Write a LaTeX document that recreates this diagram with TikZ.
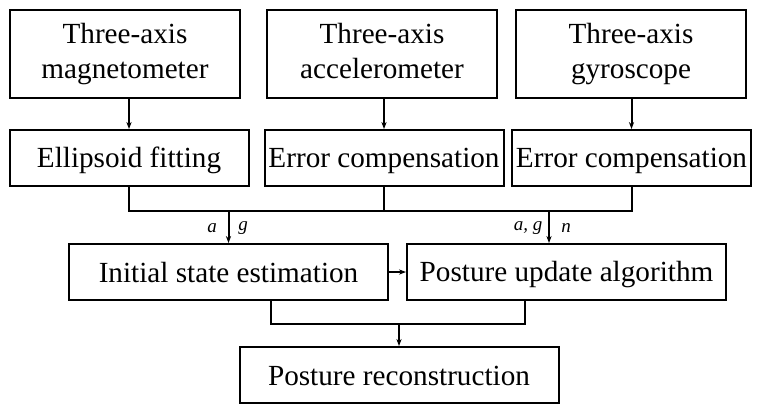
\documentclass[tikz,border=0pt]{standalone}
\usepackage{fontspec}
\setmainfont{Liberation Serif}
\usetikzlibrary{positioning,arrows.meta}
\newcommand\boxstrut{\rule[-3pt]{0pt}{16pt}}
\tikzset{x=0.5pt, y=-0.5pt,
  box/.style={draw, line width=1pt, align=center, inner sep=0pt,
    font=\fontsize{14.6}{17.5}\selectfont,
    execute at begin node=\boxstrut, execute at end node=\boxstrut},
  sensor/.style={box, minimum width=115pt, minimum height=44pt},
  stage/.style={box, minimum width=119.5pt, minimum height=28pt},
  wide/.style={box, minimum width=159.5pt, minimum height=28pt},
  wire/.style={line width=1pt},
  arr/.style={wire, -{Stealth[length=3.5pt,width=2.6pt]}},
  lab/.style={font=\fontsize{9.5}{11}\selectfont\itshape}}

\begin{document}
\begin{tikzpicture}
  \useasboundingbox (0,0) rectangle (763,414);

  % sensors
  \node (mag) [sensor] at (125,54) {Three-axis\\magnetometer};
  \node (acc) [sensor] at (382,54) {Three-axis\\accelerometer};
  \node (gyr) [sensor] at (631,54) {Three-axis\\gyroscope};

  % calibration
  \node (ell)  [stage] at (129,158) {Ellipsoid fitting};
  \node (acomp) [stage] at (384,158) {Error compensation};
  \node (gcomp) [stage] at (631.5,158) {Error compensation};

  \node (init) [wide] at (228.5,272) {Initial state estimation};
  \node (upd)  [wide] at (566.5,272) {Posture update algorithm};
  \node (rec)  [wide] at (399,375) {Posture reconstruction};

  \coordinate (bus) at (0,211);
  \coordinate (agn) at (549,211);
  \coordinate (join) at (399,324);

  \draw [arr] (mag.south -| ell.north) -- (ell.north);
  \draw [arr] (acc.south -| acomp.north) -- (acomp.north);
  \draw [arr] (gyr.south -| gcomp.north) -- (gcomp.north);

  \draw [wire] (ell.south) -- (ell.south |- bus) -| (gcomp.south);
  \draw [wire] (acomp.south) -- (acomp.south |- bus);

  \draw [arr] (init.north |- bus) -- (init.north);
  \draw [arr] (agn) -- (agn |- upd.north);
  \draw [arr] (init.east) -- (upd.west);

  \draw [wire] ([xshift=21pt]init.south) |- (join) -| ([xshift=-21pt]upd.south);
  \draw [arr] (join) -- (rec.north);

  \node (la)  [lab] at (212,228) {a};
  \node (lg)  [lab] at (243,228) {g};
  \node (lag) [lab] at (528,228) {a, g};
  \node (ln)  [lab] at (566,228) {n};
\end{tikzpicture}
\end{document}
